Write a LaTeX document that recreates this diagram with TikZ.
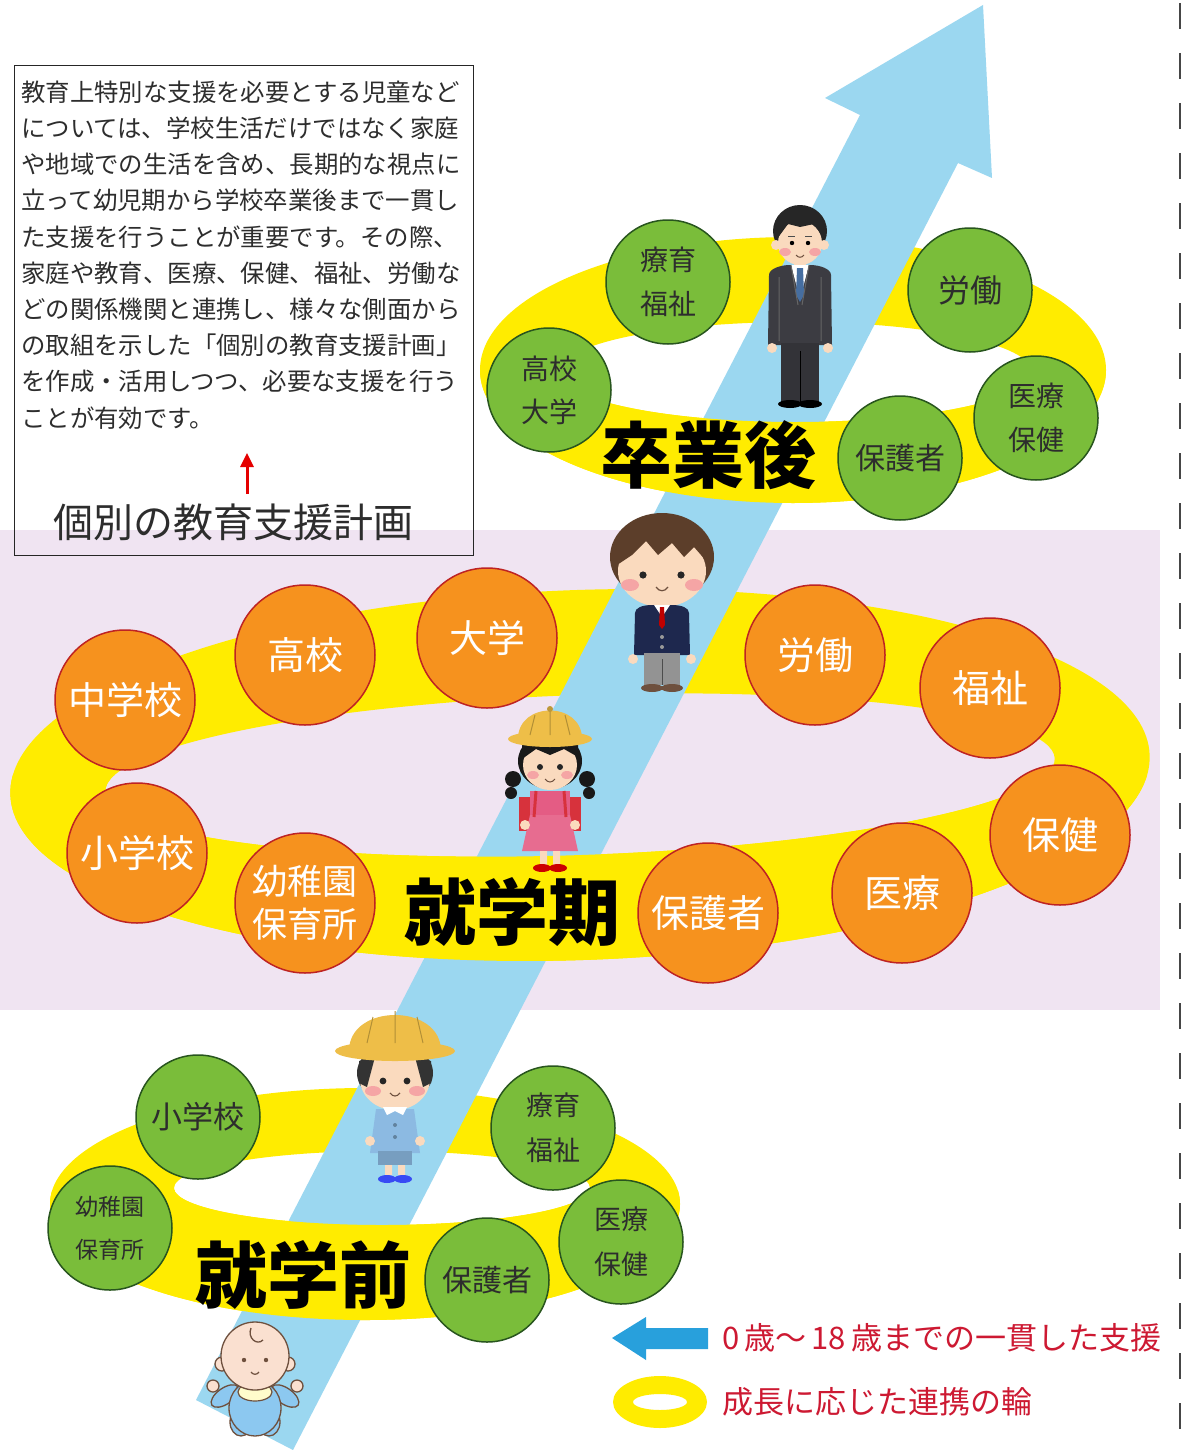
\documentclass[tikz,border=0pt]{standalone}
\usepackage{fontspec}
\setmainfont{Noto Sans CJK JP}
\usetikzlibrary{arrows.meta}

\definecolor{pinkband}{RGB}{240,228,242}
\definecolor{ringyellow}{RGB}{255,236,0}
\definecolor{arrowblue}{RGB}{155,215,240}
\definecolor{greenfill}{RGB}{122,189,58}
\definecolor{greenedge}{RGB}{40,85,30}
\definecolor{orangefill}{RGB}{246,146,30}
\definecolor{orangeedge}{RGB}{190,35,35}
\definecolor{legendred}{RGB}{205,25,50}
\definecolor{legendblue}{RGB}{40,160,220}
\definecolor{textgray}{RGB}{45,45,45}
\definecolor{skin}{RGB}{250,218,190}
\definecolor{cheek}{RGB}{245,165,165}
\definecolor{suit}{RGB}{60,60,66}
\definecolor{navy}{RGB}{30,40,78}
\definecolor{hairbrown}{RGB}{92,62,42}
\definecolor{hatyellow}{RGB}{238,190,72}
\definecolor{dresspink}{RGB}{228,92,132}
\definecolor{bagred}{RGB}{215,50,60}
\definecolor{smock}{RGB}{140,186,226}
\definecolor{babyblue}{RGB}{140,200,240}
\definecolor{babyskin}{RGB}{250,224,208}
\definecolor{outline}{RGB}{110,80,62}
\definecolor{dashgray}{RGB}{70,70,70}
\definecolor{tieblue}{RGB}{70,110,160}

\tikzset{
  greenball/.style={circle, fill=greenfill, draw=greenedge, line width=1.5pt,
    minimum size=124pt, inner sep=0pt, align=center, text=textgray},
  orangeball/.style={circle, fill=orangefill, draw=orangeedge, line width=1.5pt,
    minimum size=140pt, inner sep=0pt, align=center, text=white},
  stagelabel/.style={font=\fontsize{72}{72}\bfseries\selectfont, text=black, inner sep=0pt},
  boxline/.style={anchor=west, inner sep=0pt, text=textgray,
    font=\fontsize{24.4}{24.4}\selectfont},
}

\begin{document}
\begin{tikzpicture}[x=1pt, y=-1pt]
\useasboundingbox (0,0) rectangle (1182,1450);
\fill[white] (0,0) rectangle (1182,1450);

% lavender band behind the school-age stage
\fill[pinkband] (0,530) rectangle (1160,1010);

% page edge marks
\foreach \k in {0,...,28}
  \draw[dashgray, line width=2.2pt] (1180,{3+50*\k}) -- ++(0,26);

% ---- rings (whole ring first, front half again after the arrow) ----
\fill[ringyellow, even odd rule] (793,370) ellipse [x radius=313, y radius=133]
  (795,372) ellipse [x radius=237, y radius=50];
\begin{scope}[rotate around={2:(580,775)}]
\fill[ringyellow, even odd rule] (580,775) ellipse [x radius=570, y radius=185]
  (580,775) ellipse [x radius=475, y radius=80];
\end{scope}
\fill[ringyellow, even odd rule] (365,1204) ellipse [x radius=315, y radius=116]
  (382,1188) ellipse [x radius=208, y radius=37];

% ---- growth arrow ----
\fill[arrowblue] (196,1400) -- (860,115) -- (825,98) -- (983,5) -- (992,178)
  -- (958,163) -- (293,1450) -- cycle;

% front halves of the rings
\begin{scope}
\clip (400,372) rectangle (1200,600);
\fill[ringyellow, even odd rule] (793,370) ellipse [x radius=313, y radius=133]
  (795,372) ellipse [x radius=237, y radius=50];
\end{scope}
\begin{scope}
\clip (0,775) rectangle (1200,1000);
\begin{scope}[rotate around={2:(580,775)}]
\fill[ringyellow, even odd rule] (580,775) ellipse [x radius=570, y radius=185]
  (580,775) ellipse [x radius=475, y radius=80];
\end{scope}
\end{scope}
\begin{scope}
\clip (0,1190) rectangle (720,1400);
\fill[ringyellow, even odd rule] (365,1204) ellipse [x radius=315, y radius=116]
  (382,1188) ellipse [x radius=208, y radius=37];
\end{scope}

% ---- text box ----
\node[draw=black!85, line width=1.3pt, minimum width=459pt, minimum height=490pt,
  anchor=north west, inner sep=0pt] (box) at (14,65) {};
\foreach \txt [count=\i] in {
  教育上特別な支援を必要とする児童など,
  については、学校生活だけではなく家庭,
  や地域での生活を含め、長期的な視点に,
  立って幼児期から学校卒業後まで一貫し,
  た支援を行うことが重要です。その際、,
  家庭や教育、医療、保健、福祉、労働な,
  どの関係機関と連携し、様々な側面から,
  の取組を示した「個別の教育支援計画」,
  を作成・活用しつつ、必要な支援を行う,
  ことが有効です。}
  \node[boxline] (line\i) at (21,{92+36.2*(\i-1)}) {\txt};
\coordinate (redtail) at (247,494);
\coordinate (redtip) at (247,453);
\draw[red!90!black, line width=3pt, -{Triangle[length=14pt,width=13pt]}] (redtail) -- (redtip);
\node[font=\fontsize{40}{40}\selectfont, text=textgray, inner sep=0pt] (plan) at (233,522) {個別の教育支援計画};

% ---- figures ----
% young man in a suit
\begin{scope}[shift={(800,205)}]
\fill[black!85] (0,26) ellipse [x radius=27, y radius=26];
\fill[skin] (-24,40) circle [radius=5] (24,40) circle [radius=5];
\fill[skin] (0,38) ellipse [x radius=22, y radius=22];
\fill[black!85] (-23,34) -- (-23,18) -- (-12,7) -- (10,6) -- (23,16) -- (23,32)
  -- (14,19) -- (0,22) -- (-12,19) -- cycle;
\fill[cheek] (-15,47) ellipse [x radius=6, y radius=4] (15,47) ellipse [x radius=6, y radius=4];
\fill[black] (-8,38) circle [radius=2.2] (8,38) circle [radius=2.2];
\draw[black!70, line width=1pt] (-12,31) -- (-5,31) (5,31) -- (12,31);
\draw[outline, line width=1pt] (-4,50) .. controls (-2,53) and (2,53) .. (4,50);
\fill[skin] (-6,56) rectangle (6,64);
\fill[suit] (-31,70) .. controls (-31,64) and (-20,60) .. (-10,60) -- (10,60)
  .. controls (20,60) and (31,64) .. (31,70) -- (32,140) -- (-32,140) -- cycle;
\fill[white] (-9,60) -- (9,60) -- (0,94) -- cycle;
\fill[tieblue] (-3,63) -- (3,63) -- (4,90) -- (0,97) -- (-4,90) -- cycle;
\draw[black!60, line width=1pt] (-21,72) -- (-21,136) (21,72) -- (21,136)
  (-9,60) -- (-2,100) (9,60) -- (2,100);
\fill[skin] (-28,143) circle [radius=5] (28,143) circle [radius=5];
\fill[suit!85!black] (-19,138) rectangle (19,197);
\draw[black, line width=1pt] (0,146) -- (0,197);
\fill[black] (-10,199) ellipse [x radius=12, y radius=4] (10,199) ellipse [x radius=12, y radius=4];
\end{scope}

% schoolboy in a blazer
\begin{scope}[shift={(662,513)}]
\fill[hairbrown] (0,44) ellipse [x radius=52, y radius=44];
\fill[skin] (0,58) ellipse [x radius=44, y radius=36];
\fill[hairbrown] (-45,52) -- (-42,22) -- (-20,6) -- (18,5) -- (42,20) -- (46,50)
  -- (32,34) -- (22,44) -- (10,30) -- (-4,42) -- (-16,28) -- (-30,42) -- cycle;
\fill[cheek] (-32,72) ellipse [x radius=9, y radius=6] (32,72) ellipse [x radius=9, y radius=6];
\fill[black!85] (-19,62) circle [radius=3.6] (19,62) circle [radius=3.6];
\draw[outline, line width=1.2pt] (-6,74) .. controls (-3,79) and (3,79) .. (6,74);
\fill[navy] (-27,100) .. controls (-27,95) and (-20,92) .. (-10,92) -- (10,92)
  .. controls (20,92) and (27,95) .. (27,100) -- (28,142) -- (-28,142) -- cycle;
\fill[white] (-8,92) -- (8,92) -- (0,104) -- cycle;
\fill[red!75!black] (-2,94) -- (2,94) -- (3,112) -- (0,116) -- (-3,112) -- cycle;
\fill[gray!80] (0,124) circle [radius=2] (0,134) circle [radius=2];
\fill[skin] (-29,146) circle [radius=5] (29,146) circle [radius=5];
\fill[gray!85] (-18,140) rectangle (18,172);
\draw[gray!60!black, line width=1pt] (0,146) -- (0,172);
\fill[outline] (-10,175) ellipse [x radius=11, y radius=4] (10,175) ellipse [x radius=11, y radius=4];
\end{scope}

% schoolgirl with a yellow hat
\begin{scope}[shift={(550,705)}]
\fill[bagred] (-31,92) rectangle (31,126);
\fill[black!90] (0,56) ellipse [x radius=32, y radius=28];
\fill[black!90] (-37,74) circle [radius=8] (37,74) circle [radius=8]
  (-39,88) circle [radius=6] (39,88) circle [radius=6];
\fill[skin] (0,60) ellipse [x radius=27, y radius=25];
\fill[black!90] (-28,38) -- (28,38) -- (28,52) -- (14,44) -- (0,50) -- (-14,44) -- (-28,54) -- cycle;
\fill[hatyellow] (-32,34) .. controls (-32,-4) and (32,-4) .. (32,34) -- cycle;
\fill[hatyellow] (0,34) ellipse [x radius=42, y radius=8];
\draw[hatyellow!75!black, line width=1pt] (0,6) -- (0,30) (-15,10) -- (-20,30) (15,10) -- (20,30);
\fill[hatyellow!80!black] (0,4) circle [radius=3];
\fill[cheek] (-17,70) ellipse [x radius=6, y radius=4] (17,70) ellipse [x radius=6, y radius=4];
\fill[black!85] (-10,62) circle [radius=3] (10,62) circle [radius=3];
\draw[outline, line width=1pt] (-5,74) .. controls (-2,78) and (2,78) .. (5,74);
\fill[dresspink] (-20,86) rectangle (20,112);
\fill[dresspink!90!white] (-20,110) -- (20,110) -- (28,146) -- (-28,146) -- cycle;
\draw[bagred, line width=3pt] (-14,86) -- (-16,112) (14,86) -- (16,112);
\fill[skin] (-25,120) circle [radius=5] (25,120) circle [radius=5];
\fill[skin] (-10,146) rectangle (-3,160) (3,146) rectangle (10,160);
\fill[red!80!black] (-8,163) ellipse [x radius=9, y radius=4] (8,163) ellipse [x radius=9, y radius=4];
\end{scope}

% kindergarten child with a yellow hat
\begin{scope}[shift={(395,1003)}]
\fill[black!80] (0,70) ellipse [x radius=38, y radius=30];
\fill[skin] (0,76) ellipse [x radius=35, y radius=31];
\fill[black!80] (-36,58) -- (-20,54) -- (-28,84) -- (-36,80) -- cycle;
\fill[black!80] (36,58) -- (20,54) -- (28,84) -- (36,80) -- cycle;
\fill[hatyellow] (-46,48) .. controls (-46,0) and (46,0) .. (46,48) -- cycle;
\fill[hatyellow] (0,48) ellipse [x radius=60, y radius=10];
\draw[hatyellow!75!black, line width=1pt] (0,8) -- (0,40) (-22,14) -- (-28,40) (22,14) -- (28,40);
\fill[cheek] (-22,88) ellipse [x radius=8, y radius=5] (22,88) ellipse [x radius=8, y radius=5];
\fill[black!85] (-12,78) circle [radius=3.4] (12,78) circle [radius=3.4];
\draw[outline, line width=1.1pt] (-5,90) .. controls (-2,94) and (2,94) .. (5,90);
\fill[smock] (-19,106) -- (19,106) -- (25,150) -- (-25,150) -- cycle;
\fill[white] (-12,104) -- (12,104) -- (8,112) -- (0,108) -- (-8,112) -- cycle;
\fill[smock!70!black] (0,122) circle [radius=2] (0,134) circle [radius=2];
\fill[skin] (-25,138) circle [radius=5] (25,138) circle [radius=5];
\fill[smock!85!black] (-17,148) rectangle (17,162);
\fill[skin] (-10,162) rectangle (-3,172) (3,162) rectangle (10,172);
\fill[blue!60!smock] (-8,176) ellipse [x radius=9, y radius=4] (8,176) ellipse [x radius=9, y radius=4];
\end{scope}

% baby
\begin{scope}[shift={(255,1320)}]
\filldraw[fill=babyblue, draw=outline, line width=1.3pt]
  (-14,102) ellipse [x radius=11, y radius=14] (14,102) ellipse [x radius=11, y radius=14];
\filldraw[fill=babyblue, draw=outline, line width=1.3pt, rotate around={35:(-30,76)}]
  (-30,76) ellipse [x radius=16, y radius=8];
\filldraw[fill=babyblue, draw=outline, line width=1.3pt, rotate around={-35:(30,76)}]
  (30,76) ellipse [x radius=16, y radius=8];
\filldraw[fill=babyskin, draw=outline, line width=1.3pt]
  (-42,66) circle [radius=6] (42,66) circle [radius=6];
\filldraw[fill=babyblue, draw=outline, line width=1.3pt] (0,88) ellipse [x radius=26, y radius=28];
\filldraw[fill=yellow!20!white, draw=outline, line width=1.2pt] (0,72) ellipse [x radius=17, y radius=9];
\filldraw[fill=babyskin, draw=outline, line width=1.3pt]
  (-33,44) circle [radius=7] (33,44) circle [radius=7];
\filldraw[fill=babyskin, draw=outline, line width=1.3pt] (0,36) circle [radius=34];
\draw[outline, line width=1.3pt] (-4,8) .. controls (-8,18) and (2,26) .. (8,20);
\fill[outline] (-11,40) circle [radius=2.2] (11,40) circle [radius=2.2];
\draw[outline, line width=1.2pt] (-4,52) .. controls (-2,55) and (2,55) .. (4,52);
\end{scope}

% ---- after graduation ----
\node[greenball, font=\fontsize{28}{44}\selectfont] (aRyoiku) at (668,282) {療育\\福祉};
\node[greenball, font=\fontsize{28}{43}\selectfont] (aKoko) at (549,390) {高校\\大学};
\node[greenball, font=\fontsize{32}{32}\selectfont] (aRodo) at (970,290) {労働};
\node[greenball, font=\fontsize{28}{44}\selectfont] (aIryo) at (1036,418) {医療\\保健};
\node[greenball, font=\fontsize{30}{30}\selectfont] (aHogo) at (900,458) {保護者};
\node[stagelabel] (after) at (708,455) {卒業後};

% ---- school age ----
\node[orangeball, font=\fontsize{38}{38}\selectfont] (sChu) at (125,700) {中学校};
\node[orangeball, font=\fontsize{38}{38}\selectfont] (sKoko) at (305,655) {高校};
\node[orangeball, font=\fontsize{38}{38}\selectfont] (sDai) at (487,638) {大学};
\node[orangeball, font=\fontsize{38}{38}\selectfont] (sSho) at (137,853) {小学校};
\node[orangeball, font=\fontsize{35}{43}\selectfont] (sYochi) at (305,903) {幼稚園\\保育所};
\node[orangeball, font=\fontsize{38}{38}\selectfont] (sRodo) at (815,655) {労働};
\node[orangeball, font=\fontsize{38}{38}\selectfont] (sFukushi) at (990,688) {福祉};
\node[orangeball, font=\fontsize{38}{38}\selectfont] (sHoken) at (1060,835) {保健};
\node[orangeball, font=\fontsize{38}{38}\selectfont] (sIryo) at (902,893) {医療};
\node[orangeball, font=\fontsize{38}{38}\selectfont] (sHogo) at (708,913) {保護者};
\node[stagelabel] (school) at (512,912) {就学期};

% ---- preschool ----
\node[greenball, font=\fontsize{31}{31}\selectfont] (pSho) at (198,1117) {小学校};
\node[greenball, font=\fontsize{23}{43}\selectfont] (pYochi) at (110,1228) {幼稚園\\保育所};
\node[greenball, font=\fontsize{27}{45}\selectfont] (pRyoiku) at (553,1128) {療育\\福祉};
\node[greenball, font=\fontsize{27}{45}\selectfont] (pIryo) at (621,1242) {医療\\保健};
\node[greenball, font=\fontsize{30}{30}\selectfont] (pHogo) at (487,1280) {保護者};
\node[stagelabel] (pre) at (303,1275) {就学前};

% ---- legend ----
\fill[legendblue] (612,1338) -- (646,1317) -- (646,1328) -- (708,1328) -- (708,1349)
  -- (646,1349) -- (646,1360) -- cycle;
\node[anchor=west, inner sep=0pt, text=legendred, font=\fontsize{31}{31}\selectfont]
  (legArrow) at (722,1338) {0\,歳～\,18\,歳までの一貫した支援};
\fill[ringyellow, even odd rule] (660,1402) ellipse [x radius=47, y radius=26]
  (660,1402) ellipse [x radius=27, y radius=8];
\node[anchor=west, inner sep=0pt, text=legendred, font=\fontsize{31}{31}\selectfont]
  (legRing) at (722,1402) {成長に応じた連携の輪};
\end{tikzpicture}
\end{document}
